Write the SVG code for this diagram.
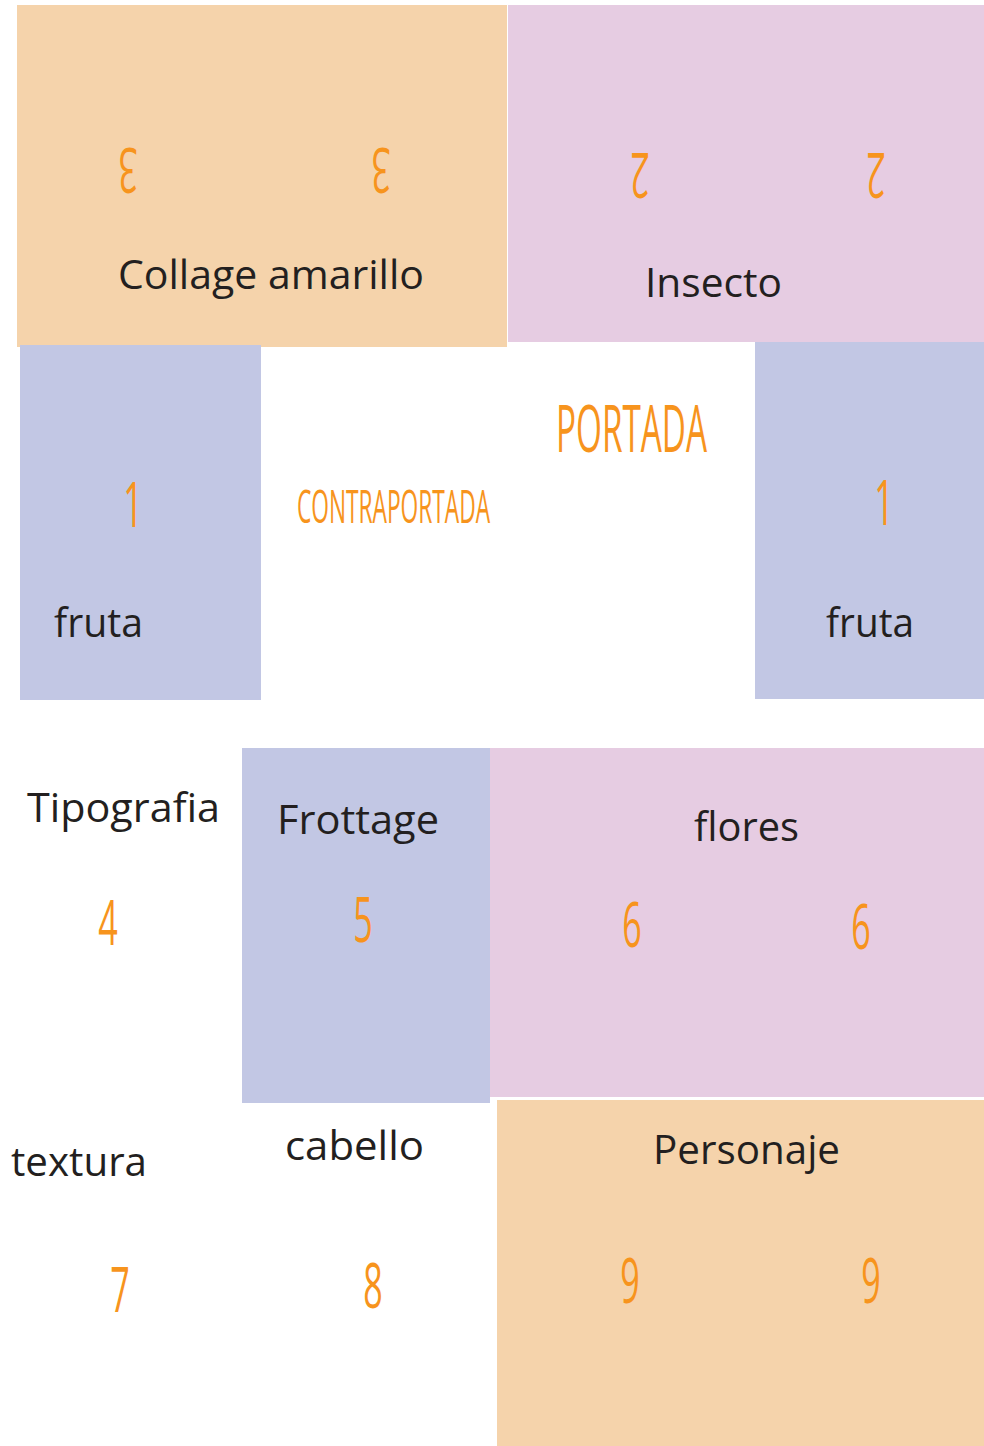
<svg xmlns="http://www.w3.org/2000/svg" width="984" height="1446" viewBox="0 0 984 1446">
<style>
.orange{fill:#f5d3ab}
.pink{fill:#e6cce2}
.blue{fill:#c2c7e4}
.lbl{font-family:"Open Sans","Noto Sans",sans-serif;font-size:41px;fill:#231f20}
.num{font-family:"Open Sans","Noto Sans",sans-serif;font-weight:400;font-size:62px;fill:#f7941d;text-anchor:middle}
.hand{font-family:"Open Sans","Noto Sans",sans-serif;font-weight:400;fill:#f7941d}
</style>
<rect width="984" height="1446" fill="#ffffff"/>
<g id="collage">
<rect class="orange" x="17" y="5" width="490" height="342"/>
<text class="num" transform="translate(128,170) rotate(180) scale(0.55,1)" y="22">3</text>
<text class="num" transform="translate(381,170) rotate(180) scale(0.55,1)" y="22">3</text>
<text class="lbl" x="118" y="289" textLength="306" lengthAdjust="spacingAndGlyphs">Collage amarillo</text>
</g>
<g id="insecto">
<rect class="pink" x="508" y="5" width="476" height="337"/>
<text class="num" transform="translate(640,175) rotate(180) scale(0.55,1)" y="22">2</text>
<text class="num" transform="translate(876,175) rotate(180) scale(0.55,1)" y="22">2</text>
<text class="lbl" x="645" y="297" textLength="137" lengthAdjust="spacingAndGlyphs">Insecto</text>
</g>
<g id="fruta-left">
<rect class="blue" x="20" y="345" width="241" height="355"/>
<text class="num" transform="translate(133,527) scale(0.55,1)">1</text>
<text class="lbl" x="54" y="637" textLength="89" lengthAdjust="spacingAndGlyphs">fruta</text>
</g>
<g id="fruta-right">
<rect class="blue" x="755" y="342" width="229" height="357"/>
<text class="num" transform="translate(884,525) scale(0.55,1)">1</text>
<text class="lbl" x="826" y="637" textLength="88" lengthAdjust="spacingAndGlyphs">fruta</text>
</g>
<g id="portada">
<text class="hand" x="556" y="452" font-size="66" textLength="151" lengthAdjust="spacingAndGlyphs">PORTADA</text>
</g>
<g id="contraportada">
<text class="hand" x="297" y="523" font-size="46" textLength="193" lengthAdjust="spacingAndGlyphs">CONTRAPORTADA</text>
</g>
<g id="tipografia">
<text class="lbl" x="27" y="822" textLength="193" lengthAdjust="spacingAndGlyphs">Tipografia</text>
<text class="num" transform="translate(108,945) scale(0.55,1)">4</text>
</g>
<g id="frottage">
<rect class="blue" x="242" y="748" width="248" height="355"/>
<text class="lbl" x="277" y="834" textLength="162" lengthAdjust="spacingAndGlyphs">Frottage</text>
<text class="num" transform="translate(363,942) scale(0.55,1)">5</text>
</g>
<g id="flores">
<rect class="pink" x="490" y="748" width="494" height="349"/>
<text class="lbl" x="694" y="841" textLength="105" lengthAdjust="spacingAndGlyphs">flores</text>
<text class="num" transform="translate(632,947) scale(0.55,1)">6</text>
<text class="num" transform="translate(861,949) scale(0.55,1)">6</text>
</g>
<g id="textura">
<text class="lbl" x="11" y="1176" textLength="136" lengthAdjust="spacingAndGlyphs">textura</text>
<text class="num" transform="translate(120,1312) scale(0.55,1)">7</text>
</g>
<g id="cabello">
<text class="lbl" x="285" y="1160" textLength="139" lengthAdjust="spacingAndGlyphs">cabello</text>
<text class="num" transform="translate(373,1308) scale(0.55,1)">8</text>
</g>
<g id="personaje">
<rect class="orange" x="497" y="1100" width="487" height="346"/>
<text class="lbl" x="653" y="1164" textLength="187" lengthAdjust="spacingAndGlyphs">Personaje</text>
<text class="num" transform="translate(630,1303) scale(0.55,1)">9</text>
<text class="num" transform="translate(871,1303) scale(0.55,1)">9</text>
</g>
<g id="connectors"/>
</svg>
